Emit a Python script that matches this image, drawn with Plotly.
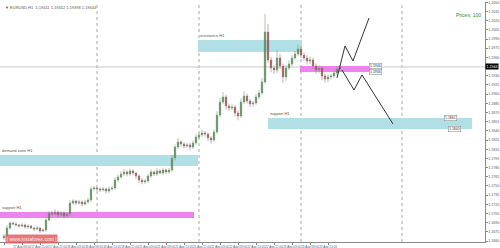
import plotly.graph_objects as go

# ---------------- data ----------------
first_open = 1.16651
close = [
    1.16683, 1.16814, 1.16896, 1.16879, 1.16863, 1.16847, 1.16863, 1.16830, 1.16847, 1.16814,
    1.16798, 1.16814, 1.16765, 1.16781, 1.16945, 1.17059, 1.17043, 1.17075, 1.17026, 1.17059,
    1.17010, 1.17043, 1.17222, 1.17255, 1.17222, 1.17239, 1.17206, 1.17239, 1.17271, 1.17451,
    1.17467, 1.17451, 1.17435, 1.17451, 1.17418, 1.17451, 1.17467, 1.17598, 1.17647, 1.17696,
    1.17729, 1.17696, 1.17745, 1.17712, 1.17663, 1.17598, 1.17565, 1.17582, 1.17663, 1.17729,
    1.17696, 1.17745, 1.17712, 1.17761, 1.17729, 1.17761, 1.17957, 1.18137, 1.18219, 1.18186,
    1.18153, 1.18170, 1.18137, 1.18202, 1.18300, 1.18333, 1.18366, 1.18349, 1.18284, 1.18251,
    1.18382, 1.18660, 1.18872, 1.18954, 1.18807, 1.18774, 1.18790, 1.18692, 1.18643, 1.18872,
    1.18970, 1.18888, 1.18839, 1.18856, 1.18954, 1.19019, 1.19199, 1.20015, 1.19558, 1.19427,
    1.19395, 1.19591, 1.19460, 1.19280, 1.19427, 1.19493, 1.19591, 1.19656, 1.19738, 1.19640,
    1.19591, 1.19542, 1.19558, 1.19460, 1.19395, 1.19427, 1.19297, 1.19248, 1.19280, 1.19297,
    1.19346, 1.19411, 1.19444,
]
upper_wick = [
    0.00030, 0.00050, 0.00025, 0.00020, 0.00030, 0.00015, 0.00030, 0.00020, 0.00025, 0.00015,
    0.00020, 0.00030, 0.00015, 0.00025,
    0.00040, 0.00030, 0.00035, 0.00045, 0.00020, 0.00030, 0.00025, 0.00030,
    0.00050, 0.00030, 0.00020, 0.00035, 0.00025, 0.00030, 0.00040,
    0.00045, 0.00030, 0.00020, 0.00025, 0.00030, 0.00020, 0.00035, 0.00030,
    0.00040, 0.00035, 0.00045, 0.00050, 0.00030, 0.00040, 0.00025, 0.00020, 0.00030, 0.00025,
    0.00030, 0.00035, 0.00040, 0.00025, 0.00045, 0.00030, 0.00035, 0.00025, 0.00030,
    0.00050, 0.00040, 0.00060, 0.00030, 0.00025, 0.00035, 0.00030, 0.00040, 0.00045, 0.00035,
    0.00050, 0.00030, 0.00025, 0.00030, 0.00040,
    0.00060, 0.00070, 0.00080, 0.00040, 0.00035, 0.00045, 0.00030, 0.00040, 0.00060, 0.00080,
    0.00040, 0.00030, 0.00035, 0.00050, 0.00045, 0.00060,
    0.00295, 0.00131, 0.00050, 0.00040, 0.00130, 0.00060, 0.00040, 0.00050, 0.00060, 0.00045,
    0.00050, 0.00070, 0.00050, 0.00040, 0.00045, 0.00060, 0.00035, 0.00040, 0.00050, 0.00030,
    0.00035, 0.00045, 0.00030, 0.00040, 0.00045, 0.00035,
]
lower_wick = [
    0.00030, 0.00025, 0.00030, 0.00020, 0.00025, 0.00030, 0.00020, 0.00025, 0.00030, 0.00020,
    0.00035, 0.00025, 0.00030, 0.00020,
    0.00030, 0.00025, 0.00030, 0.00020, 0.00045, 0.00030, 0.00040, 0.00025,
    0.00030, 0.00025, 0.00035, 0.00030, 0.00040, 0.00025, 0.00030,
    0.00030, 0.00025, 0.00030, 0.00035, 0.00025, 0.00040, 0.00030, 0.00025,
    0.00030, 0.00025, 0.00030, 0.00035, 0.00040, 0.00030, 0.00035, 0.00045, 0.00050, 0.00040,
    0.00030, 0.00025, 0.00030, 0.00035, 0.00030, 0.00025, 0.00030, 0.00035, 0.00025,
    0.00030, 0.00040, 0.00035, 0.00045, 0.00040, 0.00030, 0.00050, 0.00035, 0.00030, 0.00025,
    0.00030, 0.00040, 0.00050, 0.00060, 0.00035,
    0.00030, 0.00040, 0.00035, 0.00060, 0.00050, 0.00040, 0.00060, 0.00070, 0.00035, 0.00030,
    0.00045, 0.00050, 0.00040, 0.00030, 0.00035, 0.00030,
    0.00030, 0.00050, 0.00070, 0.00060, 0.00050, 0.00045, 0.00098, 0.00060, 0.00040, 0.00035,
    0.00030, 0.00040, 0.00050, 0.00045, 0.00060, 0.00050, 0.00045, 0.00060, 0.00050, 0.00070,
    0.00060, 0.00050, 0.00040, 0.00035, 0.00030, 0.00035,
]
assert len(close) == len(upper_wick) == len(lower_wick) == 113

x_tick_idx = [0, 6, 12, 18, 24, 30, 36, 42, 48, 54, 60, 66, 72, 78, 84, 90, 96, 102, 108]
x_tick_labels = ["17 Aug 2017", "17 Aug 09:00", "17 Aug 15:00", "17 Aug 21:00", "18 Aug 03:00",
                 "18 Aug 09:00", "18 Aug 15:00", "18 Aug 21:00", "21 Aug 03:00", "21 Aug 09:00",
                 "21 Aug 15:00", "21 Aug 21:00", "22 Aug 03:00", "22 Aug 09:00", "22 Aug 15:00",
                 "22 Aug 21:00", "23 Aug 03:00", "23 Aug 09:00", "23 Aug 15:00"]

# price-axis tick values (the one hidden under the last-price tag is left out)
y_ticks = [1.1660, 1.1675, 1.1690, 1.1705, 1.1720, 1.1735, 1.1750, 1.1765, 1.1780, 1.1795,
           1.1810, 1.1825, 1.1840, 1.1855, 1.1870, 1.1885, 1.1900, 1.1915, 1.1930,
           1.1960, 1.1975, 1.1990, 1.2005, 1.2020, 1.2035, 1.2050]

# projection paths (bar index, price)
bull_x = [111.0, 113.67, 116.33, 121.67]
bull_y = [1.19264, 1.19787, 1.19542, 1.20244]
bear_x = [112.67, 116.67, 119.33, 129.67]
bear_y = [1.19395, 1.19068, 1.19313, 1.18513]

# zones: (x0, x1, price_low, price_high, colour, label)
zones = [
    (64.67, 99.33, 1.19689, 1.19885, "#b0e0e6", "resistance H1"),
    (88.0, 156.0, 1.18431, 1.18611, "#b0e0e6", "support H1"),
    (-1.34, 64.67, 1.17827, 1.18006, "#b0e0e6", "demand zone H1"),
    (-1.34, 63.33, 1.16977, 1.17075, "#ee82ee", "support H1"),
    (98.67, 122.67, 1.19362, 1.19460, "#ee82ee", ""),
]
zone_tags = [(121.5, 1.19460, "1.1946"), (121.5, 1.19362, "1.1936"),
             (146.5, 1.18611, "1.1861"), (148.0, 1.18431, "1.1843")]
separators = [31, 65, 99, 132.67]
last_price = 1.19444

# ---------------- figure ----------------
idx = list(range(len(close)))
opens = [first_open] + close[:-1]
highs = [max(o, c) + u for o, c, u in zip(opens, close, upper_wick)]
lows = [min(o, c) - d for o, c, d in zip(opens, close, lower_wick)]

FONT = "Liberation Sans, Arial, sans-serif"
fig = go.Figure()

shapes = []
for x0, x1, lo, hi, col, lab in zones:
    shapes.append(dict(type="rect", xref="x", yref="y", x0=x0, x1=x1, y0=lo, y1=hi,
                       fillcolor=col, line=dict(width=0), layer="below"))
for s in separators:
    shapes.append(dict(type="line", xref="x", yref="paper", x0=s, x1=s, y0=0, y1=1,
                       line=dict(color="#a8a8a8", width=1, dash="dot"), layer="below"))
shapes.append(dict(type="line", xref="paper", yref="y", x0=0, x1=1, y0=last_price, y1=last_price,
                   line=dict(color="#c8c8c8", width=1), layer="below"))

fig.add_trace(go.Candlestick(
    x=idx, open=opens, high=highs, low=lows, close=close,
    increasing=dict(line=dict(color="#7f9a7f", width=0.6), fillcolor="#2a7a2a"),
    decreasing=dict(line=dict(color="#9a7f7f", width=0.6), fillcolor="#a01c1c"),
    whiskerwidth=0, showlegend=False, hoverinfo="skip"))

fig.add_trace(go.Scatter(x=bull_x, y=bull_y, mode="lines",
                         line=dict(color="#333333", width=1), showlegend=False, hoverinfo="skip"))
fig.add_trace(go.Scatter(x=bear_x, y=bear_y, mode="lines",
                         line=dict(color="#333333", width=1), showlegend=False, hoverinfo="skip"))

annotations = []
for x0, x1, lo, hi, col, lab in zones:
    if lab:
        annotations.append(dict(x=max(x0, -1.2), y=hi, xref="x", yref="y", text=lab,
                                showarrow=False, xanchor="left", yanchor="bottom",
                                font=dict(size=4, color="#555555", family=FONT)))
for tx, ty, tt in zone_tags:
    annotations.append(dict(x=tx, y=ty, xref="x", yref="y", text=tt, showarrow=False,
                            xanchor="left", yanchor="middle", bgcolor="#ffffff",
                            bordercolor="#808080", borderwidth=0.5, borderpad=0.5,
                            font=dict(size=3.5, color="#333333", family=FONT)))
annotations.append(dict(x=0.006, y=0.997, xref="paper", yref="paper",
                        text="▼ EURUSD,H1  1.19411 1.19452 1.19398 1.19444", showarrow=False,
                        xanchor="left", yanchor="top",
                        font=dict(size=4, color="#555555", family=FONT)))
annotations.append(dict(x=1.0, y=last_price, xref="paper", yref="y", text="1.1944",
                        showarrow=False, xanchor="left", yanchor="middle", bgcolor="#000000",
                        borderpad=0.6, font=dict(size=3.6, color="#ffffff", family=FONT)))
annotations.append(dict(x=0.995, y=0.945, xref="paper", yref="paper", text="Prices: 100",
                        showarrow=False, xanchor="right", yanchor="middle",
                        font=dict(size=5, color="#2e8b2e", family=FONT)))
annotations.append(dict(x=5 / 485, y=0.0125, xref="paper", yref="paper",
                        text="| www.instaforex.com |", showarrow=False, xanchor="left",
                        yanchor="middle", bgcolor="rgba(225,95,95,0.85)", borderpad=0.8,
                        font=dict(size=5, color="#fde8e8", family=FONT)))

fig.update_layout(
    width=500, height=248, margin=dict(l=0, r=15, t=2, b=6),
    paper_bgcolor="#ffffff", plot_bgcolor="#ffffff",
    shapes=shapes, annotations=annotations,
    xaxis=dict(range=[-1.333, 160.333], tickmode="array", tickvals=x_tick_idx,
               ticktext=x_tick_labels, showgrid=False, zeroline=False,
               rangeslider=dict(visible=False), showline=True, linecolor="#8a8a8a",
               linewidth=1, ticks="outside", ticklen=1.5, tickcolor="#8a8a8a",
               tickfont=dict(size=3, color="#555555", family=FONT), tickangle=0),
    yaxis=dict(range=[1.16585, 1.20505], side="right", tickmode="array", tickvals=y_ticks,
               tickformat=".4f", showgrid=False, zeroline=False, showline=True,
               linecolor="#8a8a8a", linewidth=1, ticks="outside", ticklen=1.5,
               tickcolor="#8a8a8a", tickfont=dict(size=3.6, color="#555555", family=FONT)),
)

fig.write_html("out.html")
